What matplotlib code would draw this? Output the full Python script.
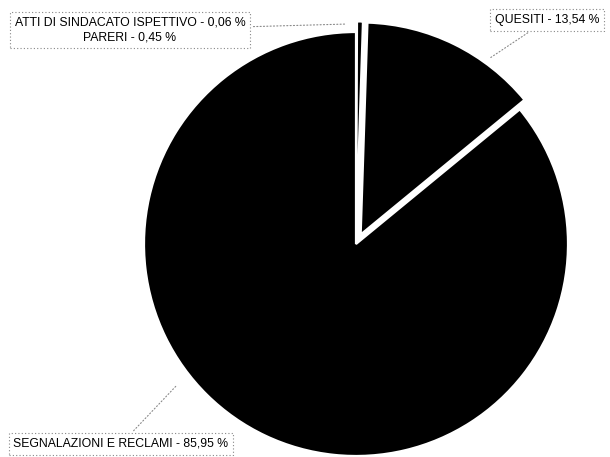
import matplotlib
matplotlib.use("Agg")
import matplotlib.pyplot as plt

plt.rcParams['font.family'] = ['Liberation Sans', 'DejaVu Sans']

# quote percentuali delle pratiche per tipologia
categorie = ['ATTI DI SINDACATO ISPETTIVO', 'PARERI', 'QUESITI', 'SEGNALAZIONI E RECLAMI']
valori = [0.06, 0.45, 13.54, 85.95]
esplosi = [0.05, 0.05, 0.05, 0.0]

R = 212
fig = plt.figure(figsize=(6.10, 4.57), dpi=100)
ax = fig.add_axes([0, 0, 1, 1])

# l'offset di explode è in unità dati: lo scalo sul raggio
ax.pie(valori, explode=[e * R for e in esplosi], startangle=90, counterclock=False,
       colors=['black'] * len(valori), center=(356, 213), radius=R,
       wedgeprops=dict(edgecolor='white', linewidth=1.6), frame=True)
ax.set_xlim(0, 610)
ax.set_ylim(0, 457)
ax.set_aspect('equal')
ax.axis('off')


def etichetta(i):
    return f"{categorie[i]} - {valori[i]:.2f} %".replace('.', ',')


box = dict(boxstyle='square,pad=0.4', facecolor='white', edgecolor='#888888',
           linestyle=(0, (1, 2)), linewidth=0.8)
linea = dict(arrowstyle='-', color='#888888', linestyle=(0, (1, 2)), linewidth=0.8)

# didascalie con linee di richiamo
ax.annotate(etichetta(0) + "\n" + etichetta(1), xy=(348, 433), xytext=(130, 427),
            ha='center', va='center', fontsize=8.8, bbox=box, arrowprops=linea,
            linespacing=1.3)
ax.annotate(etichetta(2), xy=(487, 397), xytext=(547, 437),
            ha='center', va='center', fontsize=8.8, bbox=box, arrowprops=linea)
ax.annotate(etichetta(3), xy=(178, 73), xytext=(121, 13),
            ha='center', va='center', fontsize=8.8, bbox=box, arrowprops=linea)

fig.savefig('out.png', dpi=100)
